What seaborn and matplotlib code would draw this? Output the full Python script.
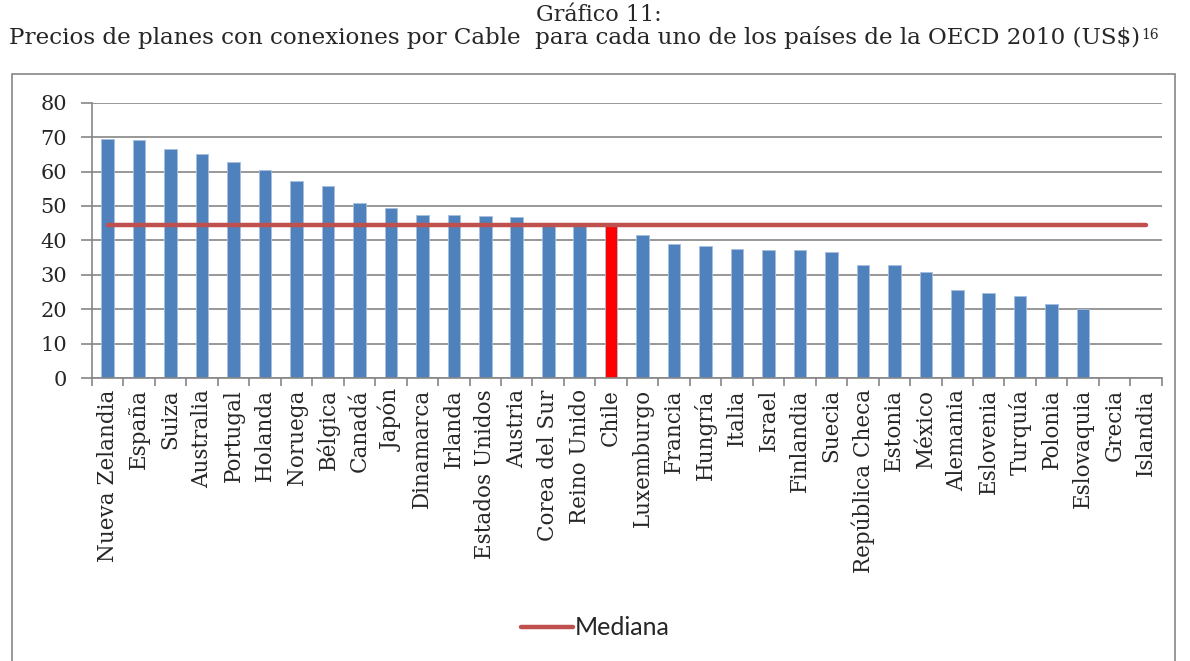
import numpy as np
import pandas as pd
import matplotlib
matplotlib.use("Agg")
import matplotlib.pyplot as plt
import seaborn as sns
from matplotlib.patches import Rectangle
from matplotlib.ticker import FixedLocator

# data
paises = ['Nueva Zelandia', 'España', 'Suiza', 'Australia', 'Portugal', 'Holanda',
          'Noruega', 'Bélgica', 'Canadá', 'Japón', 'Dinamarca', 'Irlanda',
          'Estados Unidos', 'Austria', 'Corea del Sur', 'Reino Unido', 'Chile',
          'Luxemburgo', 'Francia', 'Hungría', 'Italia', 'Israel', 'Finlandia',
          'Suecia', 'República Checa', 'Estonia', 'México', 'Alemania',
          'Eslovenia', 'Turquía', 'Polonia', 'Eslovaquia', 'Grecia', 'Islandia']
precios = [69.6, 69.1, 66.7, 65.1, 62.7, 60.5, 57.2, 55.9, 50.9, 49.3, 47.4, 47.3,
           47.0, 46.8, 45.1, 44.7, 44.5, 41.5, 38.9, 38.5, 37.5, 37.3, 37.2,
           36.5, 32.9, 32.9, 30.8, 25.7, 24.6, 23.8, 21.5, 20.1, 0, 0]
mediana = 44.6
y_ticks = [0, 10, 20, 30, 40, 50, 60, 70, 80]

df = pd.DataFrame({'pais': paises, 'precio': precios})
colores = ['#FF0000' if p == 'Chile' else '#4F81BD' for p in paises]

sns.set_style('white')
plt.rcParams['font.family'] = ['DejaVu Serif']

fig = plt.figure(figsize=(11.9, 6.61), dpi=100)
ax = fig.add_axes([0.0773, 0.428, 0.899, 0.4166])

sns.barplot(data=df, x='pais', y='precio', hue='pais', palette=colores,
            saturation=1, legend=False, width=0.4, edgecolor='#A7C0DE',
            linewidth=0.6, ax=ax)

x = np.arange(len(paises))
ax.plot(x, [mediana] * len(paises), color='#C0504D', lw=3.2,
        solid_capstyle='round', label='Mediana', zorder=5)

ax.set_xlim(-0.5, len(paises) - 0.5)
ax.set_ylim(0, 80)
ax.set_yticks(y_ticks)
ax.yaxis.grid(True, color='#868686', lw=1.2)
ax.set_axisbelow(True)
ax.set_xlabel('')
ax.set_ylabel('')

for s in ['top', 'right']:
    ax.spines[s].set_visible(False)
for s in ['left', 'bottom']:
    ax.spines[s].set_color('#868686')
    ax.spines[s].set_linewidth(1.2)

ax.set_xticks(x)
ax.set_xticklabels(paises, rotation=90, fontsize=15.5)
ax.tick_params(axis='x', which='major', length=0, pad=8)
ax.xaxis.set_minor_locator(FixedLocator(np.arange(-0.5, len(paises), 1.0)))
ax.tick_params(axis='x', which='minor', length=6, color='#868686', width=1.2,
               bottom=True)
ax.tick_params(axis='y', labelsize=15, length=8, color='#868686', width=1.2,
               left=True, pad=10)

leg = fig.legend(loc='center', bbox_to_anchor=(0.5, 0.05), frameon=False,
                 prop={'family': 'Lato', 'size': 18}, handlelength=2.1,
                 handletextpad=0.05)

# outer chart frame
fig.patches.append(Rectangle((12 / 1190, -0.01), 1163 / 1190, 1 - 74 / 661 + 0.01,
                             transform=fig.transFigure, fill=False,
                             edgecolor='#868686', lw=1.2))

fig.text(0.503, 0.977, 'Gráfico 11:', ha='center', va='center', fontsize=16)
t2 = fig.text(0.483, 0.943, 'Precios de planes con conexiones por Cable  para cada uno de '
              'los países de la OECD 2010 (US$)', ha='center', va='center',
              fontsize=16.6)
fig.canvas.draw()
bb = t2.get_window_extent().transformed(fig.transFigure.inverted())
fig.text(bb.x1 + 0.001, 0.947, '16', ha='left', va='center', fontsize=10)

fig.savefig('out.png', dpi=100)
